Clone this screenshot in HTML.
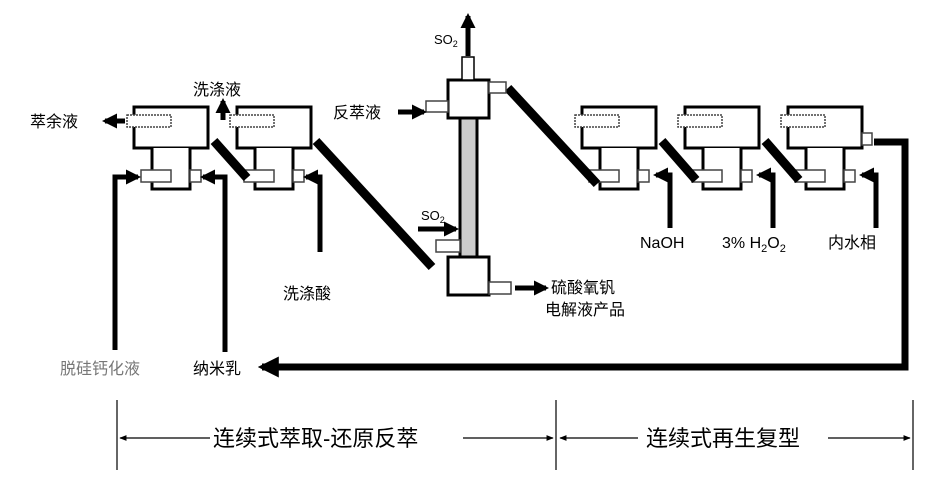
<!DOCTYPE html>
<html><head><meta charset="utf-8"><style>
html,body{margin:0;padding:0;background:#fff;}
svg{display:block;font-family:"Liberation Sans","Noto Sans CJK SC",sans-serif;}
</style></head><body>
<svg width="927" height="487" viewBox="0 0 927 487" xmlns="http://www.w3.org/2000/svg">
<defs>
<marker id="ah" viewBox="0 0 10 10" refX="8" refY="5" markerWidth="3" markerHeight="3" orient="auto"><path d="M0,0 L10,5 L0,10 z" fill="#000"/></marker>
<marker id="as" viewBox="0 0 10 10" refX="9" refY="5" markerWidth="6" markerHeight="6" orient="auto"><path d="M0,1 L10,5 L0,9 z" fill="#000"/></marker>
<g id="unit">
<rect x="0" y="0" width="74" height="41" fill="#fff" stroke="#000" stroke-width="3"/>
<rect x="-7" y="8" width="44" height="12" fill="#fff" stroke="#444" stroke-width="1.5" stroke-dasharray="2,1"/>
<path d="M18,41 V82 H56 V41" fill="#fff" stroke="#000" stroke-width="3"/>
<rect x="7" y="63" width="30" height="12" fill="#fff" stroke="#444" stroke-width="1.5"/>
<rect x="56" y="63" width="11" height="12" fill="#fff" stroke="#444" stroke-width="1.5"/>
</g>
</defs>
<rect width="927" height="487" fill="#fff"/>

<!-- units -->
<use href="#unit" x="134" y="107"/>
<use href="#unit" x="237" y="107"/>
<use href="#unit" x="582" y="107"/>
<use href="#unit" x="685" y="107"/>
<use href="#unit" x="788" y="107"/>

<!-- diagonals -->
<g stroke="#000" stroke-width="9" stroke-linecap="butt">
<line x1="214" y1="141" x2="247" y2="178"/>
<line x1="316" y1="141" x2="432" y2="267"/>
<line x1="508" y1="88" x2="597" y2="184"/>
<line x1="662" y1="141" x2="696" y2="180"/>
<line x1="765" y1="141" x2="799" y2="180"/>
</g>

<!-- column -->
<rect x="460" y="118" width="17" height="140" fill="#ccc" stroke="#000" stroke-width="3"/>
<rect x="448" y="80" width="41" height="38" fill="#fff" stroke="#000" stroke-width="3"/>
<rect x="448" y="257" width="41" height="38" fill="#fff" stroke="#000" stroke-width="3"/>
<rect x="462" y="57" width="12" height="23" fill="#fff" stroke="#000" stroke-width="1.5"/>
<rect x="489" y="82" width="17" height="11" fill="#fff" stroke="#444" stroke-width="1.5"/>
<rect x="426" y="101" width="22" height="11" fill="#fff" stroke="#444" stroke-width="1.5"/>
<rect x="436" y="240" width="24" height="12" fill="#fff" stroke="#444" stroke-width="1.5"/>
<rect x="489" y="282" width="22" height="12" fill="#fff" stroke="#444" stroke-width="1.5"/>
<rect x="862" y="133" width="10" height="12" fill="#fff" stroke="#444" stroke-width="1.5"/>

<!-- small arrows -->
<g stroke="#000" stroke-width="5" fill="none" marker-end="url(#ah)">
<line x1="468" y1="56" x2="468" y2="16"/>
<line x1="398" y1="112" x2="424" y2="112"/>
<line x1="418" y1="229" x2="456" y2="229"/>
<line x1="515" y1="288" x2="546" y2="288"/>
<line x1="125" y1="121" x2="105" y2="121"/>
<line x1="223" y1="120" x2="223" y2="101"/>
<path d="M115,350 V177 H138"/>
<path d="M225,352 V177 H203"/>
<path d="M320,252 V177 H306"/>
<path d="M670,228 V175 H656"/>
<path d="M773,228 V175 H759"/>
<path d="M876,228 V175 H862"/>
</g>
<path d="M874,142 H905 V367 H262" stroke="#000" stroke-width="7" fill="none" marker-end="url(#ah)"/>

<!-- labels -->
<g font-size="16" fill="#000">
<text x="30" y="127">萃余液</text>
<text x="193" y="95">洗涤液</text>
<text x="333" y="118">反萃液</text>
<text x="283" y="299">洗涤酸</text>
<text x="551" y="293">硫酸氧钒</text>
<text x="545" y="315">电解液产品</text>
<text x="640" y="248">NaOH</text>
<text x="722" y="248">3% H<tspan font-size="11" dy="4">2</tspan><tspan dy="-4">O</tspan><tspan font-size="11" dy="4">2</tspan></text>
<text x="828" y="248">内水相</text>
<text x="60" y="374" fill="#777">脱硅钙化液</text>
<text x="193" y="374">纳米乳</text>
<text x="434" y="44" font-size="13">SO<tspan font-size="9" dy="3">2</tspan></text>
<text x="421" y="220" font-size="13">SO<tspan font-size="9" dy="3">2</tspan></text>
</g>

<!-- bottom brackets -->
<g stroke="#000" stroke-width="1.2" fill="none">
<line x1="117" y1="400" x2="117" y2="470"/>
<line x1="556" y1="400" x2="556" y2="470"/>
<line x1="913" y1="400" x2="913" y2="470"/>
<line x1="210" y1="438" x2="120" y2="438" marker-end="url(#as)"/>
<line x1="463" y1="438" x2="553" y2="438" marker-end="url(#as)"/>
<line x1="638" y1="438" x2="560" y2="438" marker-end="url(#as)"/>
<line x1="828" y1="438" x2="910" y2="438" marker-end="url(#as)"/>
</g>
<g font-size="22" fill="#000">
<text x="213" y="446">连续式萃取-还原反萃</text>
<text x="646" y="446">连续式再生复型</text>
</g>
</svg>
</body></html>
